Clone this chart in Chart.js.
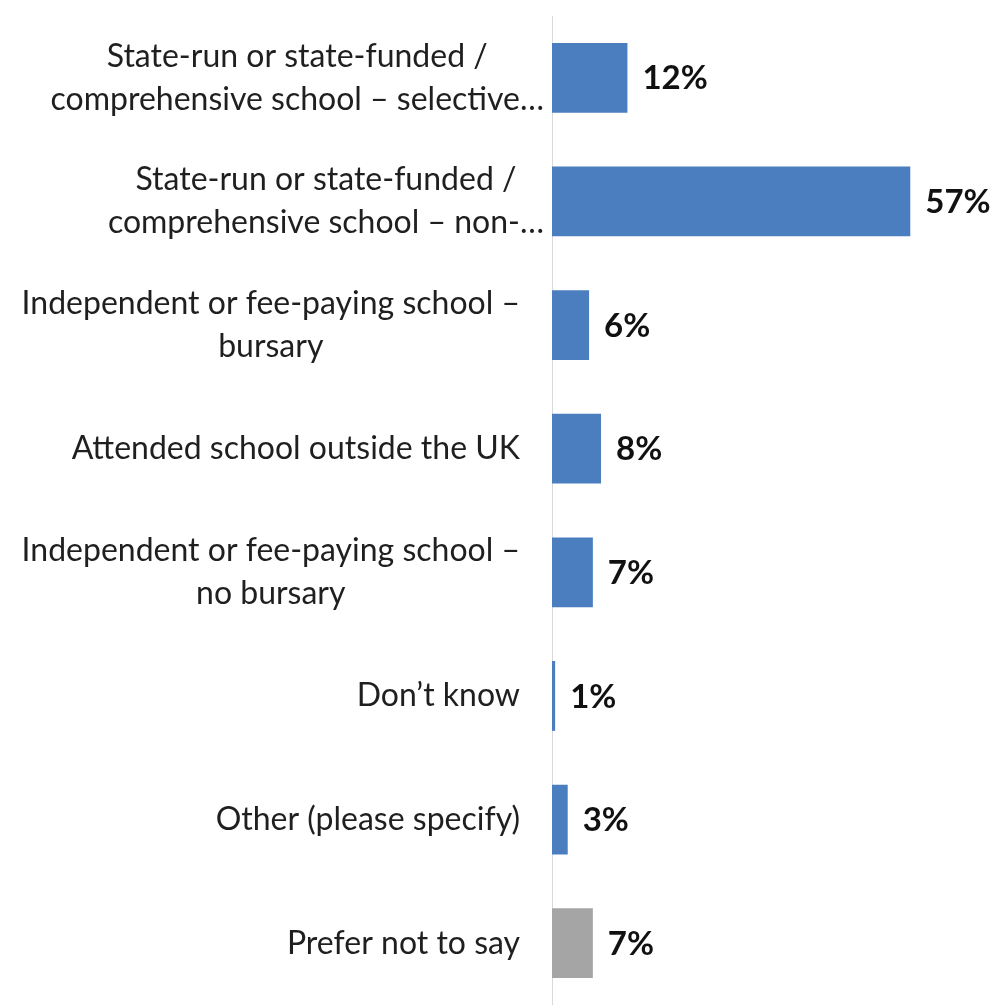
<!DOCTYPE html>
<html>
<head>
<meta charset="utf-8">
<script src="https://cdn.jsdelivr.net/npm/chart.js@4/dist/chart.umd.min.js"></script>
<style>
  html, body { margin: 0; padding: 0; background: #fff; }
  #wrap { width: 1001px; height: 1005px; position: relative; }
</style>
</head>
<body>
<div id="wrap"><canvas id="chart"></canvas></div>
<script>
// category labels, one array per wrapped line
const categories = [
  ['State-run or state-funded /', 'comprehensive school \u2013 selective\u2026'],
  ['State-run or state-funded /', 'comprehensive school \u2013 non-\u2026'],
  ['Independent or fee-paying school \u2013', 'bursary'],
  ['Attended school outside the UK'],
  ['Independent or fee-paying school \u2013', 'no bursary'],
  ['Don\u2019t know'],
  ['Other (please specify)'],
  ['Prefer not to say'],
];
// bar lengths as drawn (percent)
const values = [12, 57, 5.9, 7.8, 6.5, 0.5, 2.5, 6.5];
// printed labels
const valueLabels = ['12%', '57%', '6%', '8%', '7%', '1%', '3%', '7%'];
const barColors = ['#4A7EBF', '#4A7EBF', '#4A7EBF', '#4A7EBF', '#4A7EBF', '#4A7EBF', '#4A7EBF', '#A5A5A5'];

const FONT = 'Lato, "Open Sans", sans-serif';

// draws the category text centred line by line, block right-aligned to the axis
const categoryText = {
  id: 'categoryText',
  afterDraw(chart) {
    const { ctx } = chart;
    const y = chart.scales.y;
    const right = y.right - 32;
    const lineH = 43;
    ctx.save();
    ctx.font = '32px ' + FONT;
    ctx.fillStyle = '#1f1f1f';
    ctx.textAlign = 'center';
    ctx.textBaseline = 'middle';
    categories.forEach((lines, i) => {
      const cy = y.getPixelForTick(i);
      const w = Math.max(...lines.map(l => ctx.measureText(l).width));
      const trunc = lines.some(l => l.endsWith('\u2026')) ? ctx.measureText('\u2026').width : 0;
      const cx = right + trunc - w / 2;
      const top = cy - (lines.length - 1) * lineH / 2;
      lines.forEach((l, j) => ctx.fillText(l, cx, top + j * lineH));
    });
    ctx.restore();
  }
};

// bold percentage next to each bar
const valueText = {
  id: 'valueText',
  afterDatasetsDraw(chart) {
    const { ctx } = chart;
    const meta = chart.getDatasetMeta(0);
    ctx.save();
    ctx.font = 'bold 33px ' + FONT;
    ctx.fillStyle = '#111';
    ctx.textAlign = 'left';
    ctx.textBaseline = 'middle';
    meta.data.forEach((bar, i) => {
      ctx.fillText(valueLabels[i], bar.x + 15, bar.y + 1);
    });
    ctx.restore();
  }
};

new Chart(document.getElementById('chart'), {
  type: 'bar',
  data: {
    labels: categories,
    datasets: [{
      data: values,
      backgroundColor: barColors,
      borderWidth: 0,
      barPercentage: 0.565,
      categoryPercentage: 1,
    }],
  },
  options: {
    indexAxis: 'y',
    responsive: true,
    maintainAspectRatio: false,
    animation: false,
    layout: { padding: { top: 16, right: 9, bottom: -3, left: 0 } },
    plugins: {
      legend: { display: false },
      tooltip: { enabled: false },
    },
    scales: {
      x: {
        display: false,
        min: 0,
        max: 70,
        grid: { display: false },
      },
      y: {
        grid: { display: false, drawTicks: false },
        border: { display: true, color: '#D9D9D9', width: 1 },
        ticks: { display: false },
        afterFit: (s) => { s.width = 552; },
      },
    },
  },
  plugins: [categoryText, valueText],
});
</script>
</body>
</html>
